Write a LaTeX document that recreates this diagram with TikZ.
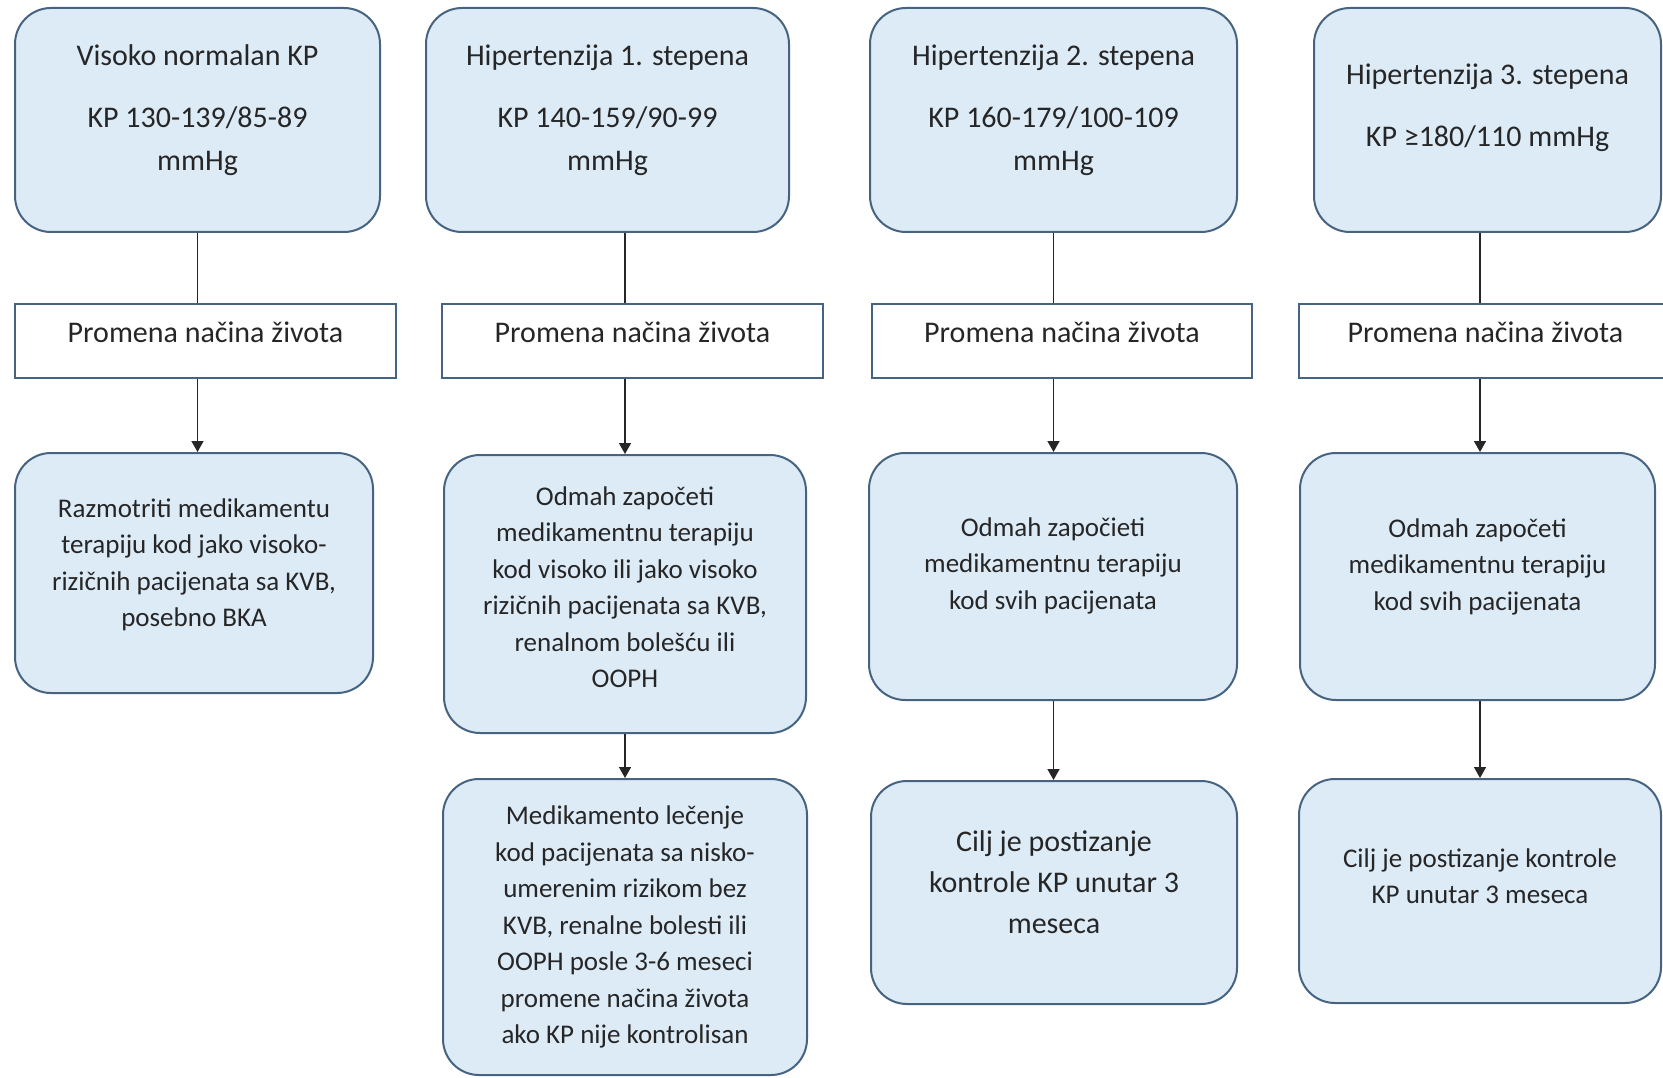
\documentclass[tikz,border=0pt]{standalone}
\usepackage{fontspec}
\setmainfont{Carlito}
\usetikzlibrary{arrows.meta}
\definecolor{boxfill}{RGB}{221,235,247}
\definecolor{boxline}{RGB}{70,100,130}
\definecolor{txtc}{RGB}{38,38,38}
\newcommand{\mybox}[6]{\node[#1, minimum width={#5-#3}, minimum height={#6-#4}] (#2) at ({(#3+#5)/2},{(#4+#6)/2}) {};}
\begin{document}
\begin{tikzpicture}[x=1pt,y=-1pt,
  rbox/.style={draw=boxline, fill=boxfill, line width=2pt, rounded corners=36pt, inner sep=0pt},
  wbox/.style={draw=boxline, fill=white, line width=2pt, inner sep=0pt},
  bigtxt/.style={align=center, text=txtc, font=\fontsize{30}{43}\selectfont, inner sep=0pt},
  midtxt/.style={align=center, text=txtc, font=\fontsize{30}{41}\selectfont, inner sep=0pt},
  smalltxt/.style={align=center, text=txtc, font=\fontsize{27}{36.5}\selectfont, inner sep=0pt},
  link/.style={line width=1.5pt, draw=black!85},
  arr/.style={link, -{Triangle[width=12pt,length=11pt]}}
]
\useasboundingbox (0,0) rectangle (1663,1078);
\fill[white] (0,0) rectangle (1663,1078);
\clip (0,0) rectangle (1663,1078);

% top boxes
\mybox{rbox}{T1}{15}{8}{380}{232}
\mybox{rbox}{T2}{426}{8}{789}{232}
\mybox{rbox}{T3}{870}{8}{1237}{232}
\mybox{rbox}{T4}{1314}{8}{1661}{232}

\node[bigtxt] (T1t) at ([yshift=10pt]T1.center) {Visoko normalan KP\\[19pt]KP 130-139/85-89\\mmHg};
\node[bigtxt] (T2t) at ([yshift=10pt]T2.center) {Hipertenzija 1. stepena\\[19pt]KP 140-159/90-99\\mmHg};
\node[bigtxt] (T3t) at ([yshift=10pt]T3.center) {Hipertenzija 2. stepena\\[19pt]KP 160-179/100-109\\mmHg};
\node[bigtxt] (T4t) at ([yshift=12pt]T4.center) {Hipertenzija 3. stepena\\[19pt]KP ≥180/110 mmHg};

% lifestyle boxes
\tikzset{ptxt/.style={text=txtc, font=\fontsize{30}{36}\selectfont, text height=21pt, text depth=19pt}}
\node[wbox, ptxt, minimum width=381, minimum height=74] (R1) at (205.5,341) {Promena načina života};
\node[wbox, ptxt, minimum width=381, minimum height=74] (R2) at (632.5,341) {Promena načina života};
\node[wbox, ptxt, minimum width=380, minimum height=74] (R3) at (1062,341) {Promena načina života};
\node[wbox, ptxt, minimum width=373, minimum height=74] (R4) at (1485.5,341) {Promena načina života};

% second row
\mybox{rbox}{B1}{15}{453}{373}{693}
\mybox{rbox}{B2a}{444}{455}{806}{733}
\mybox{rbox}{B3a}{869}{453}{1237}{700}
\mybox{rbox}{B4a}{1300}{453}{1655}{700}

% third row
\mybox{rbox}{B2b}{443}{779}{807}{1075}
\mybox{rbox}{B3b}{871}{781}{1237}{1004}
\mybox{rbox}{B4b}{1299}{779}{1661}{1003}

\node[smalltxt] (B1t) at ([yshift=8pt]B1.center) {Razmotriti medikamentu\\terapiju kod jako visoko-\\rizičnih pacijenata sa KVB,\\posebno BKA};
\node[smalltxt] (B2at) at ([yshift=7pt]B2a.center) {Odmah započeti\\medikamentnu terapiju\\kod visoko ili jako visoko\\rizičnih pacijenata sa KVB,\\renalnom bolešću ili\\OOPH};
\node[smalltxt] (B2bt) at (B2b.center) {Medikamento lečenje\\kod pacijenata sa nisko-\\umerenim rizikom bez\\KVB, renalne bolesti ili\\OOPH posle 3-6 meseci\\promene načina života\\ako KP nije kontrolisan};
\node[smalltxt] (B3at) at ([yshift=11pt]B3a.center) {Odmah započieti\\medikamentnu terapiju\\kod svih pacijenata};
\node[midtxt] (B3bt) at ([yshift=10pt]B3b.center) {Cilj je postizanje\\kontrole KP unutar 3\\meseca};
\node[smalltxt] (B4at) at ([yshift=10pt]B4a.center) {Odmah započeti\\medikamentnu terapiju\\kod svih pacijenata};
\node[smalltxt] (B4bt) at ([yshift=15pt]B4b.center) {Cilj je postizanje kontrole\\KP unutar 3 meseca};

% connectors column 1
\draw[link] (T1.south) -- (T1.south |- R1.north);
\draw[arr] (T1.south |- R1.south) -- (T1.south |- B1.north);
% column 2
\draw[link] (B2a.north |- T2.south) -- (B2a.north |- R2.north);
\draw[arr] (B2a.north |- R2.south) -- (B2a.north);
\draw[arr] (B2a.south) -- (B2a.south |- B2b.north);
% column 3
\draw[link] (T3.south) -- (T3.south |- R3.north);
\draw[arr] (T3.south |- R3.south) -- (T3.south |- B3a.north);
\draw[arr] (T3.south |- B3a.south) -- (T3.south |- B3b.north);
% column 4
\draw[link] (B4b.north |- T4.south) -- (B4b.north |- R4.north);
\draw[arr] (B4b.north |- R4.south) -- (B4b.north |- B4a.north);
\draw[arr] (B4b.north |- B4a.south) -- (B4b.north);
\end{tikzpicture}
\end{document}
